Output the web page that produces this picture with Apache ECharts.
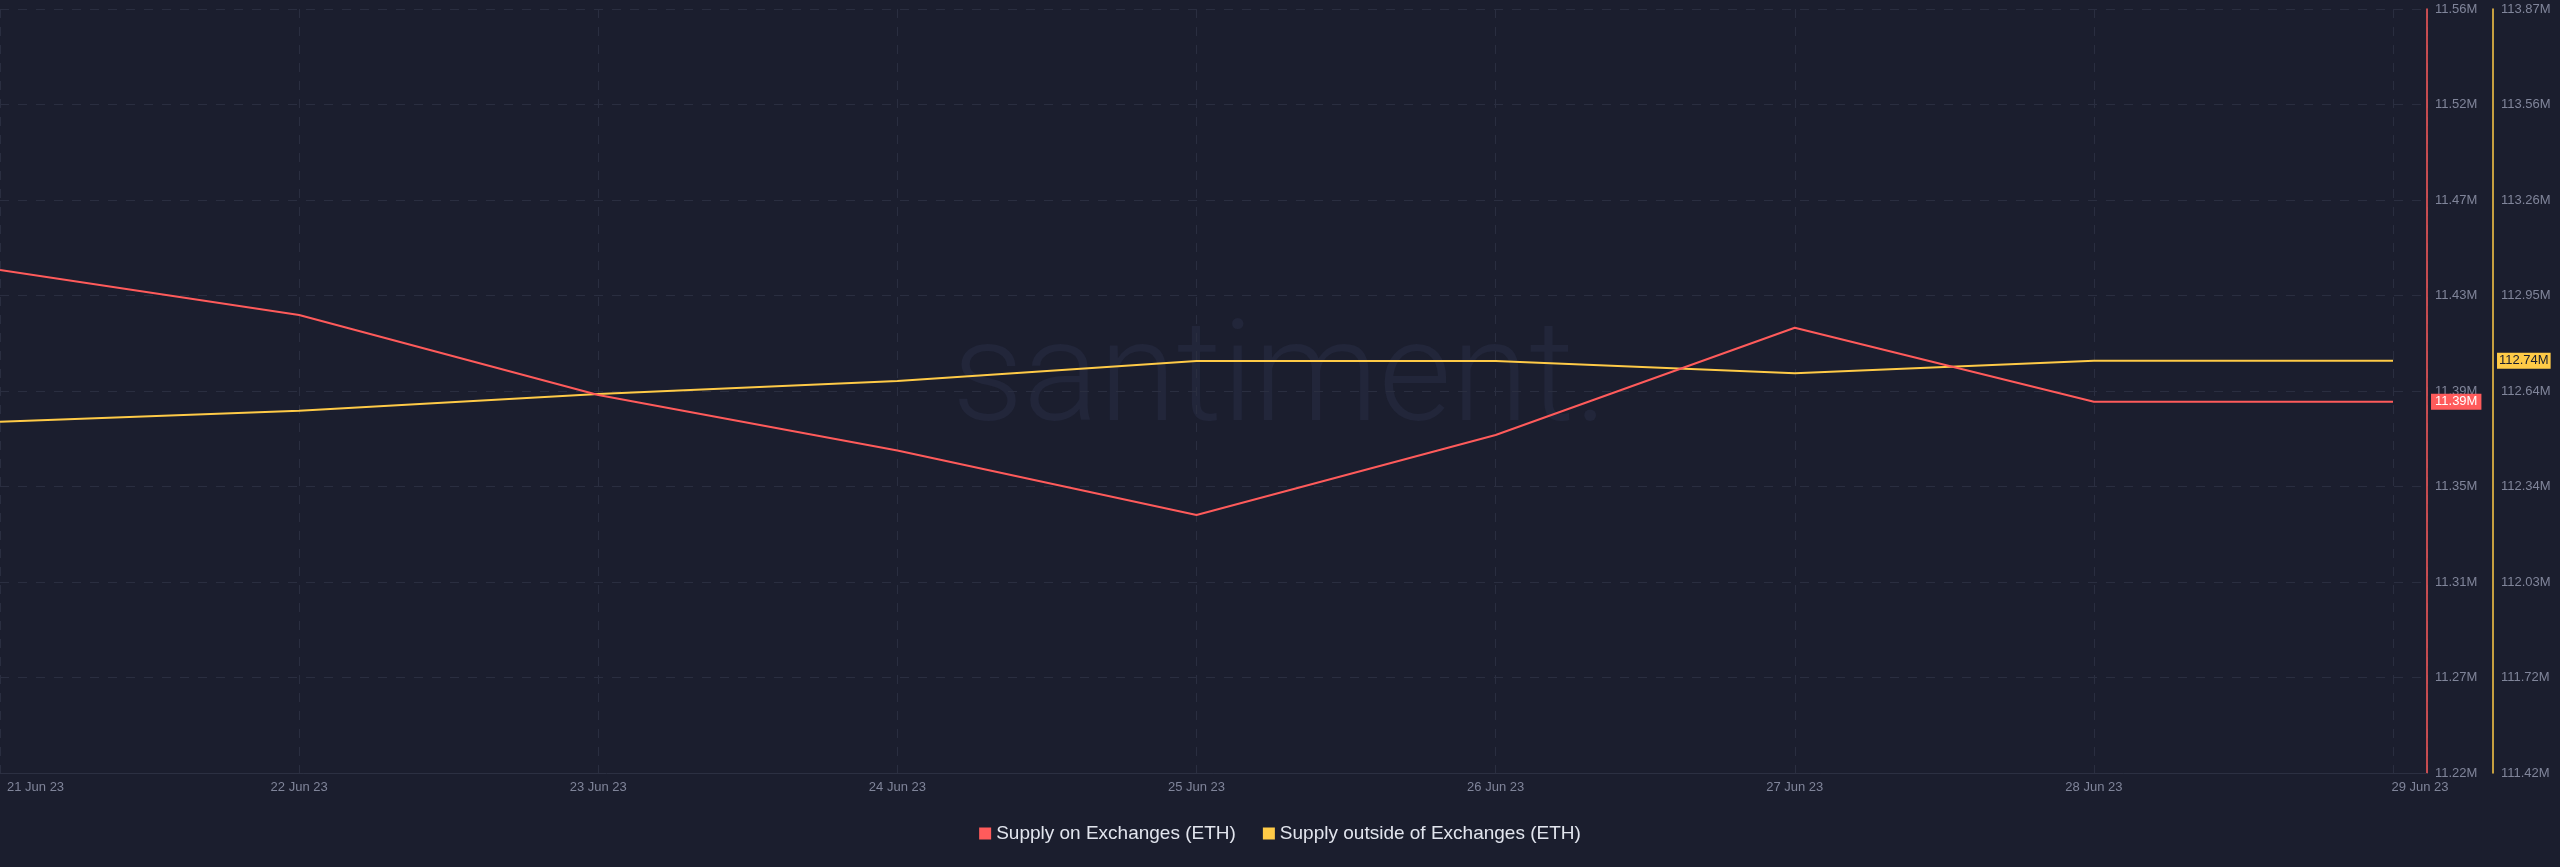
<!DOCTYPE html>
<html>
<head>
<meta charset="utf-8">
<script src="https://cdn.jsdelivr.net/npm/echarts@6/dist/echarts.min.js"></script>
<style>
  html, body { margin: 0; padding: 0; background: #1b1e2e; }
  #chart { width: 2560px; height: 867px; }
</style>
</head>
<body>
<div id="chart"></div>
<script>
// ---- data ----
const dates = ['21 Jun 23', '22 Jun 23', '23 Jun 23', '24 Jun 23', '25 Jun 23', '26 Jun 23', '27 Jun 23', '28 Jun 23', '29 Jun 23'];
const supplyOnExchanges = [11443300, 11423700, 11389000, 11364800, 11336800, 11371600, 11418200, 11386000, 11386000];
const supplyOutsideExchanges = [112544600, 112579800, 112633400, 112675100, 112739200, 112739200, 112699800, 112740200, 112740200];
const seriesNames = ['Supply on Exchanges (ETH)', 'Supply outside of Exchanges (ETH)'];
// axis ranges (tick labels)
const onAxisMin = 11224700, onAxisMax = 11556700, onAxisStep = 41500;
const outAxisMin = 111418000, outAxisMax = 113868000, outAxisStep = 306250;
const xMaxExtra = 0.1136;

const RED = '#ff5b5b', YELLOW = '#ffcb47';
const GRID = '#2a2e40', LABEL = '#80859a';
const fmtM = v => (v / 1e6).toFixed(2) + 'M';

const chart = echarts.init(document.getElementById('chart'), null, { renderer: 'canvas' });
chart.setOption({
  backgroundColor: '#1b1e2e',
  animation: false,
  graphic: [{
    type: 'text',
    left: 'center',
    top: 314,
    z: 0,
    silent: true,
    style: { text: 'santiment.', font: '300 141px Roboto', fill: '#22263a' }
  }],
  grid: { left: 0, right: 133, top: 9, bottom: 94, containLabel: false },
  legend: {
    data: seriesNames,
    bottom: 19,
    left: 'center',
    icon: 'rect',
    itemWidth: 12,
    itemHeight: 12,
    itemGap: 27,
    textStyle: { color: '#e2e5ee', fontSize: 19, fontFamily: 'Liberation Sans' }
  },
  xAxis: {
    type: 'value',
    min: 0,
    max: dates.length - 1 + xMaxExtra,
    interval: 1,
    axisLine: { show: true, onZero: false, lineStyle: { color: '#2c3042', width: 1 } },
    axisTick: { show: false },
    splitLine: { show: true, lineStyle: { color: GRID, type: [9, 9], width: 1 } },
    axisLabel: {
      color: LABEL, fontSize: 13, fontFamily: 'Liberation Sans', margin: 8,
      alignMinLabel: 'left',
      formatter: (v) => {
        if (!Number.isInteger(v)) return '';
        if (v === 0) return '{first|' + dates[v] + '}';
        if (v === dates.length - 1) return '{last|' + dates[v] + '}';
        return dates[v];
      },
      rich: {
        first: { color: LABEL, fontSize: 13, fontFamily: 'Liberation Sans', padding: [0, 0, 0, 7] },
        last: { color: LABEL, fontSize: 13, fontFamily: 'Liberation Sans', padding: [0, 0, 0, 54] }
      }
    }
  },
  yAxis: [{
    type: 'value',
    position: 'right',
    min: onAxisMin, max: onAxisMax, interval: onAxisStep,
    axisLine: { show: true, onZero: false, lineStyle: { color: RED, width: 1.5 } },
    axisTick: { show: false },
    splitLine: { show: true, lineStyle: { color: GRID, type: [9, 9], width: 1 } },
    axisLabel: { color: LABEL, fontSize: 13, fontFamily: 'Liberation Sans', margin: 8, formatter: fmtM }
  }, {
    type: 'value',
    position: 'right',
    offset: 66,
    min: outAxisMin, max: outAxisMax, interval: outAxisStep,
    axisLine: { show: true, onZero: false, lineStyle: { color: YELLOW, width: 1.5 } },
    axisTick: { show: false },
    splitLine: { show: false },
    axisLabel: { color: LABEL, fontSize: 13, fontFamily: 'Liberation Sans', margin: 8, formatter: fmtM }
  }],
  series: [{
    name: seriesNames[0],
    type: 'line',
    yAxisIndex: 0,
    data: supplyOnExchanges.map((v, i) => [i, v]),
    showSymbol: false,
    color: RED,
    lineStyle: { color: RED, width: 2 },
    z: 3,
    endLabel: {
      show: true, distance: 38, formatter: p => fmtM(p.value[1]),
      color: '#ffffff', backgroundColor: RED, padding: [2, 4, 1, 4],
      fontSize: 13, fontFamily: 'Liberation Sans'
    }
  }, {
    name: seriesNames[1],
    type: 'line',
    yAxisIndex: 1,
    data: supplyOutsideExchanges.map((v, i) => [i, v]),
    showSymbol: false,
    color: YELLOW,
    lineStyle: { color: YELLOW, width: 2 },
    z: 2,
    endLabel: {
      show: true, distance: 104, formatter: p => fmtM(p.value[1]),
      color: '#1b1e2e', backgroundColor: YELLOW, padding: [2, 2, 1, 2],
      fontSize: 13, fontFamily: 'Liberation Sans'
    }
  }]
});
</script>
</body>
</html>
